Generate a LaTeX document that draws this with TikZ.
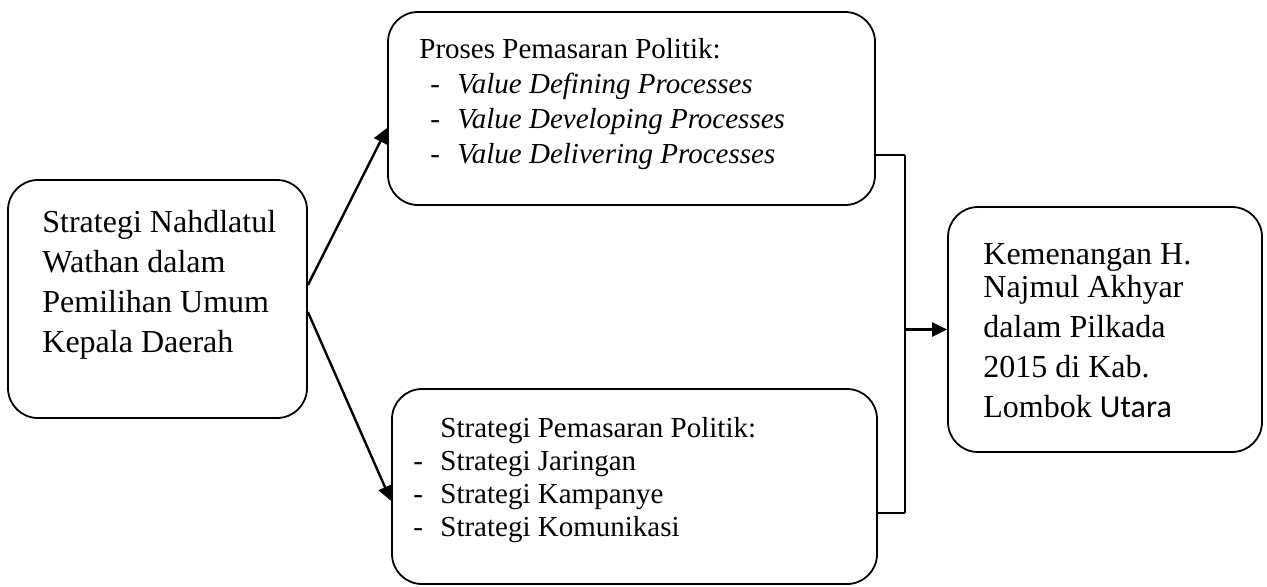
\documentclass[tikz,border=0pt]{standalone}
\usepackage{fontspec}
\setmainfont{Liberation Serif}
\newfontfamily\carlito{Carlito}
\usetikzlibrary{arrows.meta}
\begin{document}
\begin{tikzpicture}[x=0.5pt,y=-0.5pt,
  box/.style={draw,line width=0.9pt,rounded corners=15pt,inner sep=0pt},
  txt/.style={anchor=base west,inner sep=0pt,align=left},
  arr/.style={line width=1.2pt,-{Triangle[length=7.5pt,width=7pt]}},
  tick/.style={line width=1pt},
  bigfont/.style={font=\fontsize{16pt}{20pt}\selectfont},
]
\useasboundingbox (0,0) rectangle (1267,586);
% boxes
\node[box,minimum width=149.5pt,minimum height=119pt] (L) at (157.5,299) {};
\node[box,minimum width=243.5pt,minimum height=96.5pt] (A) at (631.5,108.5) {};
\node[box,minimum width=242.5pt,minimum height=97.5pt] (B) at (634.5,486.5) {};
\node[box,minimum width=157pt,minimum height=122.5pt] (R) at (1105,329.5) {};
% texts (anchored at the baseline of their last line)
\node[txt,bigfont] (tL) at (42,352) {Strategi Nahdlatul\\Wathan dalam\\Pemilihan Umum\\Kepala Daerah};
\node[txt,font=\fontsize{14.5pt}{17.5pt}\selectfont] (tA) at (419,163)
  {Proses Pemasaran Politik:\\
   \makebox[19pt][l]{\hspace*{5.5pt}-}\textit{Value Defining Processes}\\
   \makebox[19pt][l]{\hspace*{5.5pt}-}\textit{Value Developing Processes}\\
   \makebox[19pt][l]{\hspace*{5.5pt}-}\textit{Value Delivering Processes}};
\node[txt,font=\fontsize{14.5pt}{16.5pt}\selectfont] (tB) at (413,536)
  {\hspace*{13.5pt}Strategi Pemasaran Politik:\\
   \makebox[13.5pt][l]{-}Strategi Jaringan\\
   \makebox[13.5pt][l]{-}Strategi Kampanye\\
   \makebox[13.5pt][l]{-}Strategi Komunikasi};
\node[txt,bigfont] (tR) at (983,417)
  {Kemenangan H.\\[-3.5pt]Najmul Akhyar\\dalam Pilkada\\2015 di Kab.\\Lombok {\carlito Utara}};
% arrows from left box
\draw[arr] ([yshift=7pt]L.east) -- ([yshift=-9.75pt]A.west);
\draw[arr] ([yshift=-6.5pt]L.east) -- ([yshift=-7.25pt]B.west);
% bracket
\coordinate (ja) at (905,155);
\coordinate (jb) at (905,513);
\coordinate (jm) at (905,329.5);
\draw[tick] (A.east |- ja) -- (ja);
\draw[tick] (B.east |- jb) -- (jb);
\draw[line width=0.6pt] (ja) -- (jb);
\draw[arr] (jm) -- (R.west);
\end{tikzpicture}
\end{document}
